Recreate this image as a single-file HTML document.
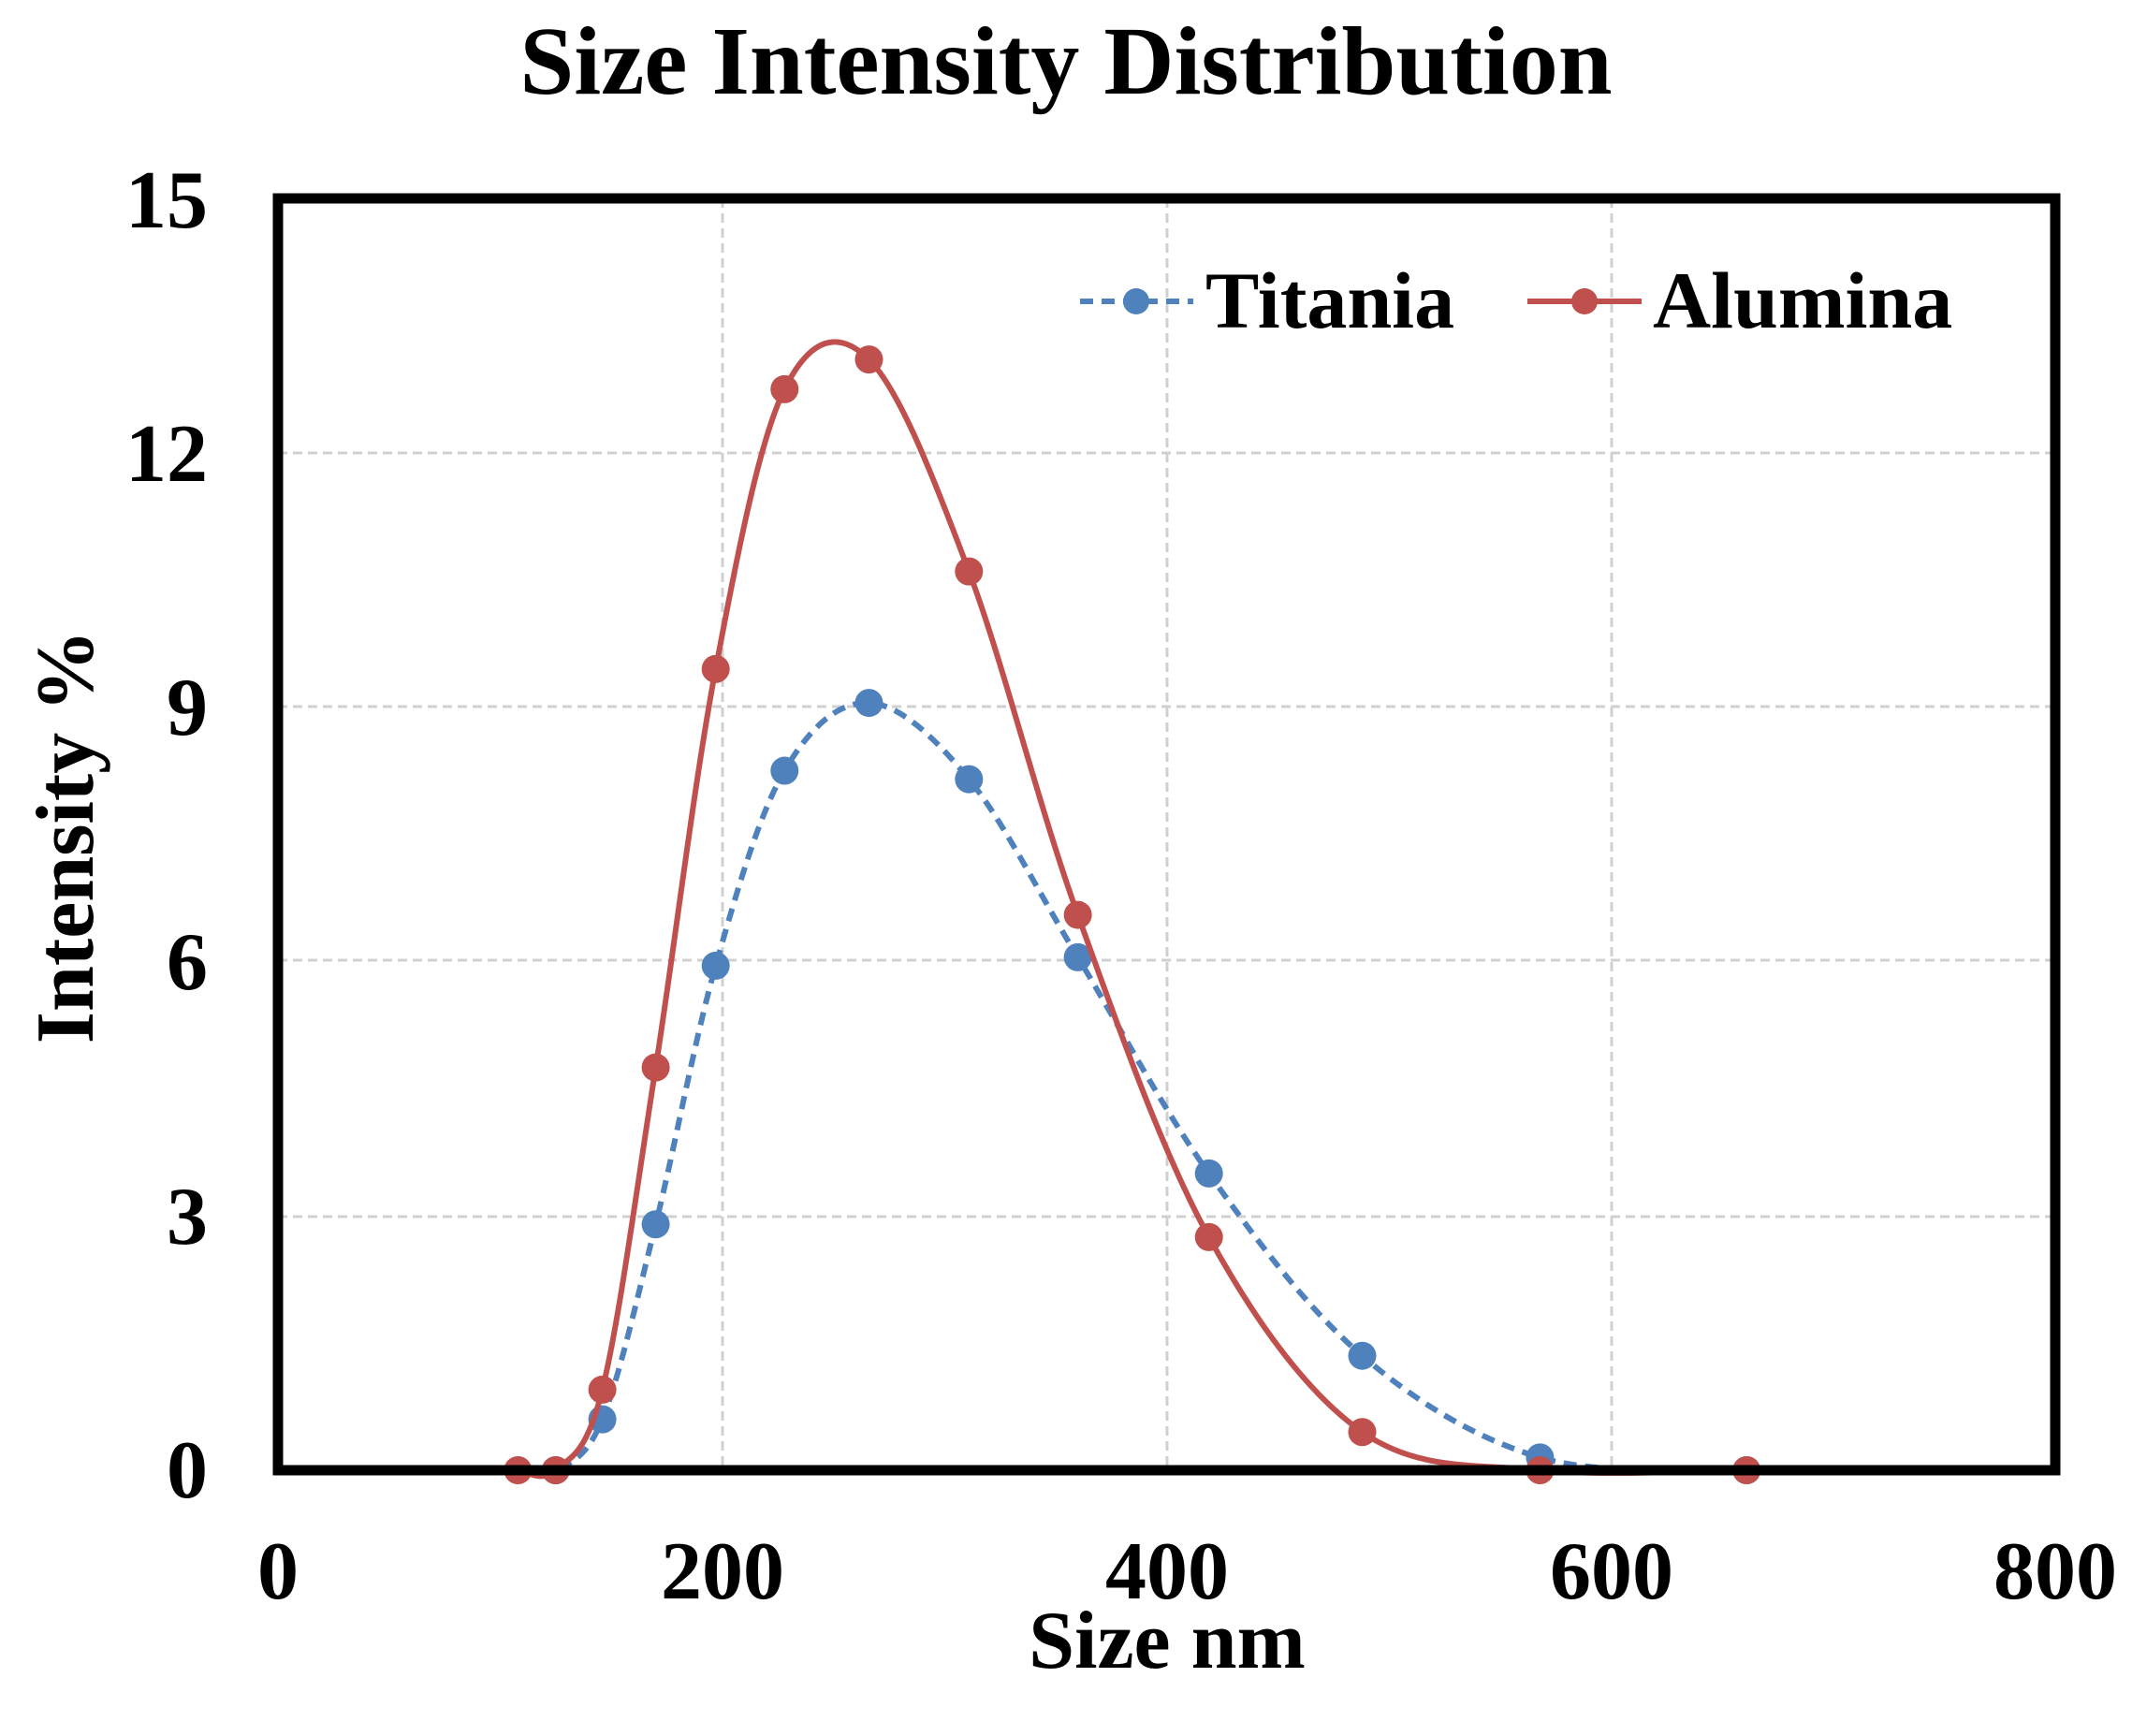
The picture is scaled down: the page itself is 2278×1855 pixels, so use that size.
<!DOCTYPE html>
<html><head><meta charset="utf-8"><style>
html,body{margin:0;padding:0;background:#fff;}
svg{display:block;}
text{font-family:"Liberation Serif",serif;font-weight:bold;fill:#000;}
</style></head><body>
<svg id="s" width="2278" height="1855" viewBox="0 0 2278 1855" xmlns="http://www.w3.org/2000/svg">
<rect width="2278" height="1855" fill="#fff"/>
<text x="1139" y="100" font-size="104" text-anchor="middle">Size Intensity Distribution</text>
<g stroke="#d0d0d0" stroke-width="3" stroke-dasharray="10,6">
<line x1="297" y1="1300" x2="2196" y2="1300"/>
<line x1="297" y1="1026" x2="2196" y2="1026"/>
<line x1="297" y1="755" x2="2196" y2="755"/>
<line x1="297" y1="484" x2="2196" y2="484"/>
<line x1="772" y1="212" x2="772" y2="1571"/>
<line x1="1247" y1="212" x2="1247" y2="1571"/>
<line x1="1722" y1="212" x2="1722" y2="1571"/>
</g>
<g id="series"></g>
<rect x="297" y="212" width="1899" height="1359" fill="none" stroke="#000" stroke-width="11"/>
<g font-size="88" text-anchor="end">
<text x="222" y="1600">0</text>
<text x="222" y="1329">3</text>
<text x="222" y="1057">6</text>
<text x="222" y="785">9</text>
<text x="222" y="514">12</text>
<text x="222" y="243">15</text>
</g>
<g font-size="88" text-anchor="middle">
<text x="297" y="1708">0</text>
<text x="772" y="1708">200</text>
<text x="1247" y="1708">400</text>
<text x="1722" y="1708">600</text>
<text x="2196" y="1708">800</text>
</g>
<text x="1247" y="1782" font-size="88" text-anchor="middle">Size nm</text>
<text transform="translate(99,894) rotate(-90)" font-size="88" text-anchor="middle">Intensity %</text>
<line x1="1154" y1="322" x2="1275" y2="322" stroke="#4F81BD" stroke-width="6" stroke-dasharray="14,9"/>
<circle cx="1214" cy="322" r="14" fill="#4F81BD"/>
<text x="1288" y="350" font-size="86">Titania</text>
<line x1="1632" y1="322" x2="1754" y2="322" stroke="#C0504D" stroke-width="6"/>
<circle cx="1693" cy="322" r="14" fill="#C0504D"/>
<text x="1766" y="350" font-size="86">Alumina</text>
</svg>
<script>
(function(){
var X=function(v){return 297+v*2.374;},Y=function(v){return 1571-v*90.6;};
var xs=[108,125,146,170,197,228,266,311,360,419,488,568,661];
var red=[0,0,0.95,4.75,9.45,12.75,13.1,10.6,6.55,2.75,0.45,0,0];
var blue=[0,0,0.6,2.9,5.95,8.25,9.05,8.15,6.05,3.5,1.35,0.15,0];
function path(ys){
 var p=xs.map(function(x,i){return [X(x),Y(ys[i])];});
 var d="M"+p[0][0]+","+p[0][1];
 for(var i=0;i<p.length-1;i++){
  var p0=p[Math.max(i-1,0)],p1=p[i],p2=p[i+1],p3=p[Math.min(i+2,p.length-1)];
  var t=1/6;
  d+=" C"+(p1[0]+(p2[0]-p0[0])*t)+","+(p1[1]+(p2[1]-p0[1])*t)+" "+(p2[0]-(p3[0]-p1[0])*t)+","+(p2[1]-(p3[1]-p1[1])*t)+" "+p2[0]+","+p2[1];
 }
 return {d:d,p:p};
}
var g=document.getElementById("series"),ns="http://www.w3.org/2000/svg";
function draw(ys,col,dash,skipFirst){
 var r=path(ys);
 var e=document.createElementNS(ns,"path");
 e.setAttribute("d",r.d);e.setAttribute("fill","none");e.setAttribute("stroke",col);e.setAttribute("stroke-width","6");
 if(dash)e.setAttribute("stroke-dasharray","14,9");
 g.appendChild(e);
 r.p.forEach(function(q,i){if(skipFirst&&i==0)return;var c=document.createElementNS(ns,"circle");c.setAttribute("cx",q[0]);c.setAttribute("cy",q[1]);c.setAttribute("r","15");c.setAttribute("fill",col);g.appendChild(c);});
}
draw(blue,"#4F81BD",true,true);
draw(red,"#C0504D",false,false);
})();
</script>
</body></html>
